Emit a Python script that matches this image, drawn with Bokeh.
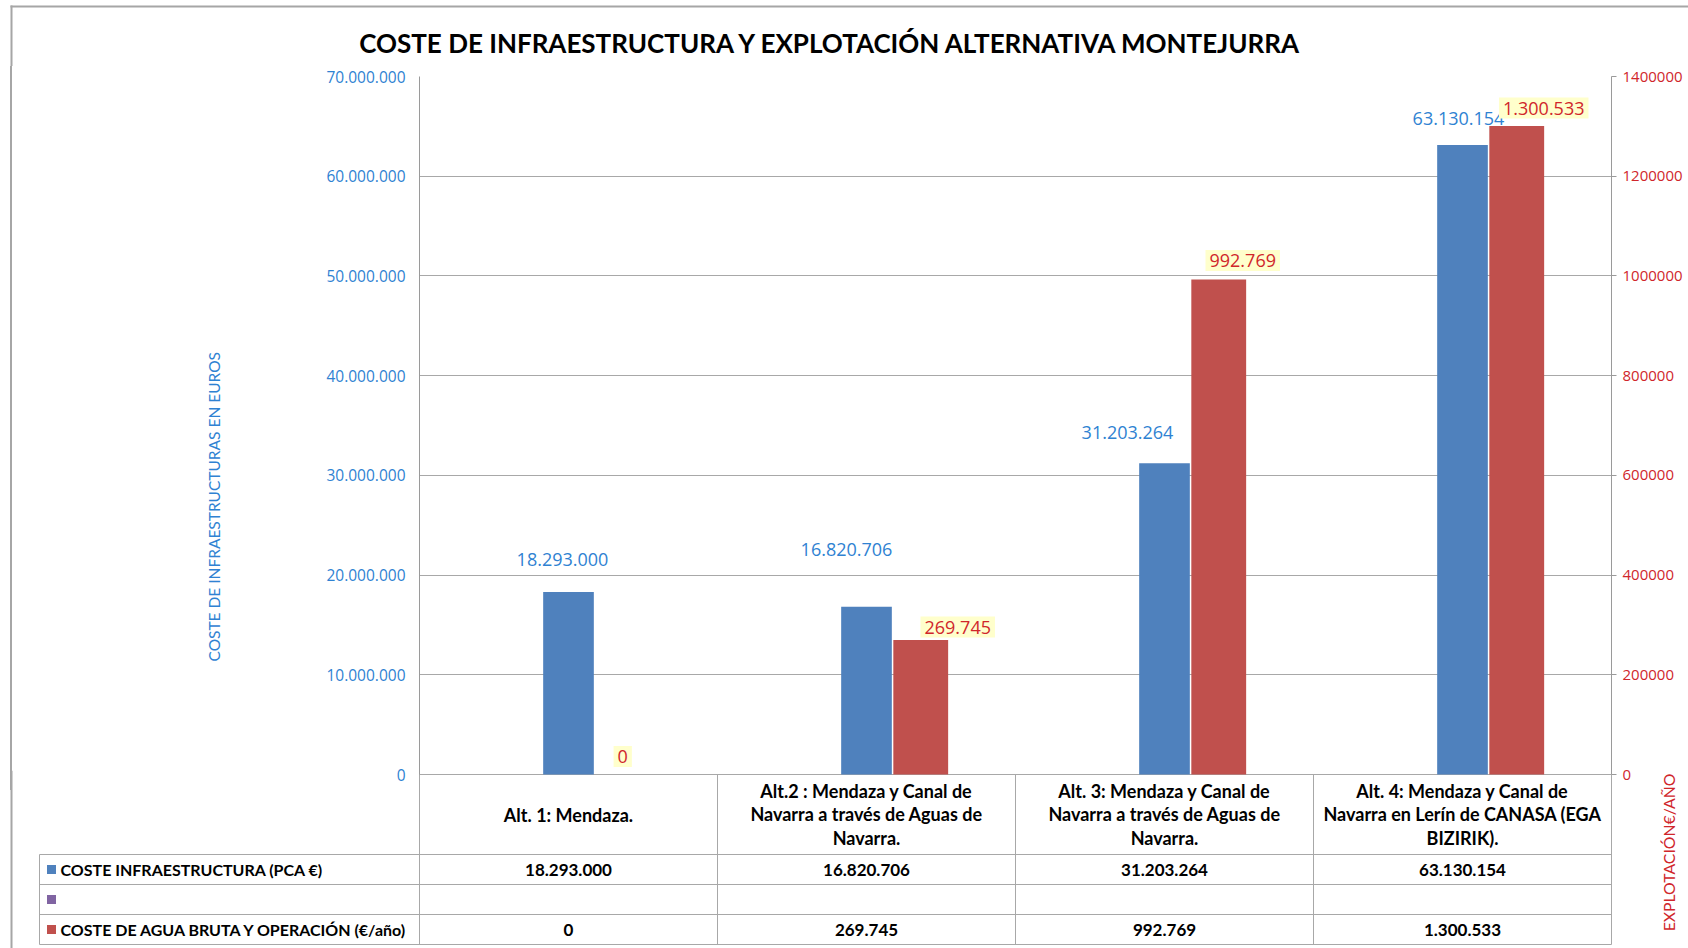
import math
import numpy as np
from bokeh.plotting import figure
from bokeh.models import (Range1d, LinearAxis, FixedTicker, CustomJSTickFormatter,
                          NumeralTickFormatter, Label, Title)
from bokeh.embed import file_html
from bokeh.resources import INLINE
from bokeh.core.properties import value

# ---------------- data ----------------
title_text = "COSTE DE INFRAESTRUCTURA Y EXPLOTACIÓN ALTERNATIVA MONTEJURRA"
categories = [
    "Alt. 1: Mendaza.",
    "Alt.2 : Mendaza y Canal de\nNavarra a través de Aguas de\nNavarra.",
    "Alt. 3: Mendaza y Canal de\nNavarra a través de Aguas de\nNavarra.",
    "Alt. 4: Mendaza y Canal de\nNavarra en Lerín de CANASA (EGA\nBIZIRIK).",
]
series_names = ["COSTE INFRAESTRUCTURA (PCA €)", "", "COSTE DE AGUA BRUTA Y OPERACIÓN (€/año)"]
infra_cost = [18293000, 16820706, 31203264, 63130154]
water_cost = [0, 269745, 992769, 1300533]
left_ticks = [0, 10000000, 20000000, 30000000, 40000000, 50000000, 60000000, 70000000]
right_ticks = [0, 200000, 400000, 600000, 800000, 1000000, 1200000, 1400000]
left_axis_title = "COSTE DE INFRAESTRUCTURAS EN EUROS"
right_axis_title = "EXPLOTACIÓN€/AÑO"

# ---------------- style ----------------
BLUE_BAR = "#4F81BD"
RED_BAR = "#C0504D"
PURPLE = "#8064A2"
BLUE_TXT = "#2F82D2"
RED_TXT = "#D0262B"
GRID = "#A8A8A8"
AXIS = "#9A9A9A"
TABLE = "#A8A8A8"
FRAME_BORDER = "#A6A6A6"
LABEL_BG = "#FFFFCC"

blue_dx = [-6, -20, -37, -4]
blue_dy = [33, 57, 31, 27]
red_dx = [0, 37, 24, 27]
red_dy = [18, 13, 19, 18]


def fmt(v):
    return f"{v:,.0f}".replace(",", ".")


W = 1688
FRAME_L = 419          # px of plot-area left edge
FRAME_R = 1611         # px of plot-area right edge
UNIT = (FRAME_R - FRAME_L) / 4.0
ZERO_Y = 774           # page px of the zero line
ZERO_GAP = 16          # px of frame below the zero line
PLOT_H = 698           # px from zero line to top line
TOP_A = 66             # page px where the chart strip starts
BOT_A = ZERO_Y + ZERO_GAP
TOP_B = 770            # page px where the (overlaid, transparent) table strip starts
BOT_B = 948

n = len(categories)
idx = np.arange(n)
x_blue = idx + 0.5
x_red = idx + 0.5 + 0.182

# ---------------- title strip ----------------
pT = figure(width=W, height=TOP_A, x_range=Range1d(0, W), y_range=Range1d(TOP_A, 0),
            x_axis_location=None, y_axis_location=None, toolbar_location=None,
            output_backend="svg", min_border=0)
pT.outline_line_color = None
pT.grid.visible = False
pT.segment(x0=[10, 11], y0=[6, 5], x1=[W, 11], y1=[6, TOP_A], line_color=FRAME_BORDER, line_width=2)
pT.text(x=[831], y=[42], text=[title_text], text_align="center", text_baseline="middle",
        text_font=value("Lato"), text_font_style="bold", text_font_size="26px",
        text_color="#000000")

# ---------------- main chart ----------------
y0 = -left_ticks[-1] * ZERO_GAP / PLOT_H
y0r = -right_ticks[-1] * ZERO_GAP / PLOT_H
pA = figure(width=W, height=BOT_A - TOP_A, x_range=Range1d(0, n),
            y_range=Range1d(y0, left_ticks[-1]),
            x_axis_location=None, toolbar_location=None, output_backend="svg",
            min_border_left=FRAME_L, min_border_right=W - FRAME_R, min_border_top=10,
            min_border_bottom=0,
            styles={"background-image": "linear-gradient(90deg, #ffffff 10px, "
                    + FRAME_BORDER + " 10px, " + FRAME_BORDER + " 12px, #ffffff 12px)"})
pA.border_fill_color = None
pA.extra_y_ranges = {"right": Range1d(y0r, right_ticks[-1])}
pA.outline_line_color = None
pA.xgrid.visible = False
pA.ygrid.ticker = FixedTicker(ticks=left_ticks)
pA.ygrid.grid_line_color = GRID

ya = pA.yaxis[0]
ya.ticker = FixedTicker(ticks=left_ticks)
ya.formatter = CustomJSTickFormatter(
    code="return Math.round(tick).toString().replace(/\\B(?=(\\d{3})+(?!\\d))/g, '.');")
ya.major_label_text_font = "Open Sans"
ya.major_label_text_font_size = "15.5px"
ya.major_label_text_color = BLUE_TXT
ya.major_tick_out = 0
ya.major_tick_in = 0
ya.minor_tick_out = 0
ya.minor_tick_in = 0
ya.major_label_standoff = 14
ya.axis_line_color = AXIS

yr = LinearAxis(y_range_name="right", ticker=FixedTicker(ticks=right_ticks),
                formatter=NumeralTickFormatter(format="0"))
yr.major_label_text_font = "Open Sans"
yr.major_label_text_font_size = "15px"
yr.major_label_text_color = RED_TXT
yr.major_tick_out = 5
yr.major_tick_in = 0
yr.minor_tick_out = 0
yr.minor_tick_in = 0
yr.major_label_standoff = 6
yr.axis_line_color = AXIS
yr.major_tick_line_color = AXIS
pA.add_layout(yr, "right")

# left axis title, placed as a side title so it can sit low like the original
pA.add_layout(Title(text=left_axis_title, align="left", offset=121 + ZERO_GAP - 8, standoff=199,
                    vertical_align="middle", text_font="Lato", text_font_style="normal",
                    text_font_size="15.5px", text_color=BLUE_TXT), "left")

# table column separators below the zero line
seps = idx[1:]
pA.segment(x0=seps, y0=[0] * len(seps), x1=seps, y1=[y0] * len(seps), line_color=TABLE, line_width=1)

pA.vbar(x=x_blue, top=infra_cost, width=0.17, fill_color=BLUE_BAR, line_color=None)
pA.vbar(x=x_red, top=water_cost, width=0.184, fill_color=RED_BAR, line_color=None,
        y_range_name="right")

has_padding = "padding" in Label.properties()
blue_labels = []
for i in range(n):
    blue_labels.append(Label(x=x_blue[i], y=infra_cost[i], x_offset=blue_dx[i], y_offset=blue_dy[i],
                             text=fmt(infra_cost[i]), text_align="center", text_baseline="middle",
                             text_font="Open Sans", text_font_size="18px", text_color=BLUE_TXT,
                             level="annotation"))
red_labels = []
for i in range(n):
    kw = dict(padding=4) if has_padding else {}
    red_labels.append(Label(x=x_red[i], y=water_cost[i], x_offset=red_dx[i], y_offset=red_dy[i],
                            y_range_name="right",
                            text=fmt(water_cost[i]), text_align="center", text_baseline="middle",
                            text_font="Open Sans", text_font_size="18px", text_color=RED_TXT,
                            background_fill_color=LABEL_BG, level="overlay", **kw))
for lab in blue_labels + red_labels:
    pA.add_layout(lab)

# ---------------- data table (transparent strip laid over the chart's foot) ----------------
pB = figure(width=W, height=BOT_B - TOP_B,
            x_range=Range1d(-FRAME_L / UNIT, (W - FRAME_L) / UNIT),
            y_range=Range1d(BOT_B, TOP_B),
            x_axis_location=None, y_axis_location=None, toolbar_location=None,
            output_backend="svg", min_border=0,
            styles={"position": "absolute", "left": "0px", "top": f"{TOP_B}px"})
pB.outline_line_color = None
pB.background_fill_color = None
pB.border_fill_color = None
pB.grid.visible = False

XB = (11 - FRAME_L) / UNIT      # outer chart border
XL = (39 - FRAME_L) / UNIT      # left edge of legend column
XM = (51 - FRAME_L) / UNIT      # legend marker centre
XT = (60 - FRAME_L) / UNIT      # legend text start
XR = (1668 - FRAME_L) / UNIT    # right axis title
row_lines = [854, 884, 914, 944]
row_mid = [869, 899, 929]

pB.segment(x0=[XB], y0=[TOP_B], x1=[XB], y1=[BOT_B], line_color=FRAME_BORDER, line_width=2)
# vertical lines
vx = list(np.arange(n + 1))
pB.segment(x0=vx, y0=[ZERO_Y] * len(vx), x1=vx, y1=[row_lines[-1]] * len(vx),
           line_color=TABLE, line_width=1)
pB.segment(x0=[XL], y0=[row_lines[0]], x1=[XL], y1=[row_lines[-1]], line_color=TABLE, line_width=1)
# horizontal lines
pB.segment(x0=[XL] * len(row_lines), y0=row_lines, x1=[n] * len(row_lines), y1=row_lines,
           line_color=TABLE, line_width=1)

pB.text(x=x_blue, y=[814] * n, text=categories, text_align="center", text_baseline="middle",
        text_font=value("Lato"), text_font_style="bold", text_font_size="18px",
        text_line_height=1.05, text_color="#000000")
pB.text(x=x_blue, y=[row_mid[0]] * n, text=[fmt(v) for v in infra_cost], text_align="center",
        text_baseline="middle", text_font=value("Lato"), text_font_style="bold",
        text_font_size="17px", text_color="#000000")
pB.text(x=x_blue, y=[row_mid[2]] * n, text=[fmt(v) for v in water_cost], text_align="center",
        text_baseline="middle", text_font=value("Lato"), text_font_style="bold",
        text_font_size="17px", text_color="#000000")

pB.scatter(x=[XM] * 3, y=row_mid, marker="square", size=9,
           fill_color=[BLUE_BAR, PURPLE, RED_BAR], line_color=None)
pB.text(x=[XT, XT], y=[row_mid[0], row_mid[2]], text=[series_names[0], series_names[2]],
        text_align="left", text_baseline="middle", text_font=value("Lato"),
        text_font_style="bold", text_font_size="16px", text_color="#000000")

pB.text(x=[XR], y=[852], text=[right_axis_title], angle=math.pi / 2, text_align="center",
        text_baseline="middle", text_font=value("Lato"), text_font_size="15.8px",
        text_color=RED_TXT)

open("out.html", "w").write(file_html([pT, pA, pB], INLINE))
